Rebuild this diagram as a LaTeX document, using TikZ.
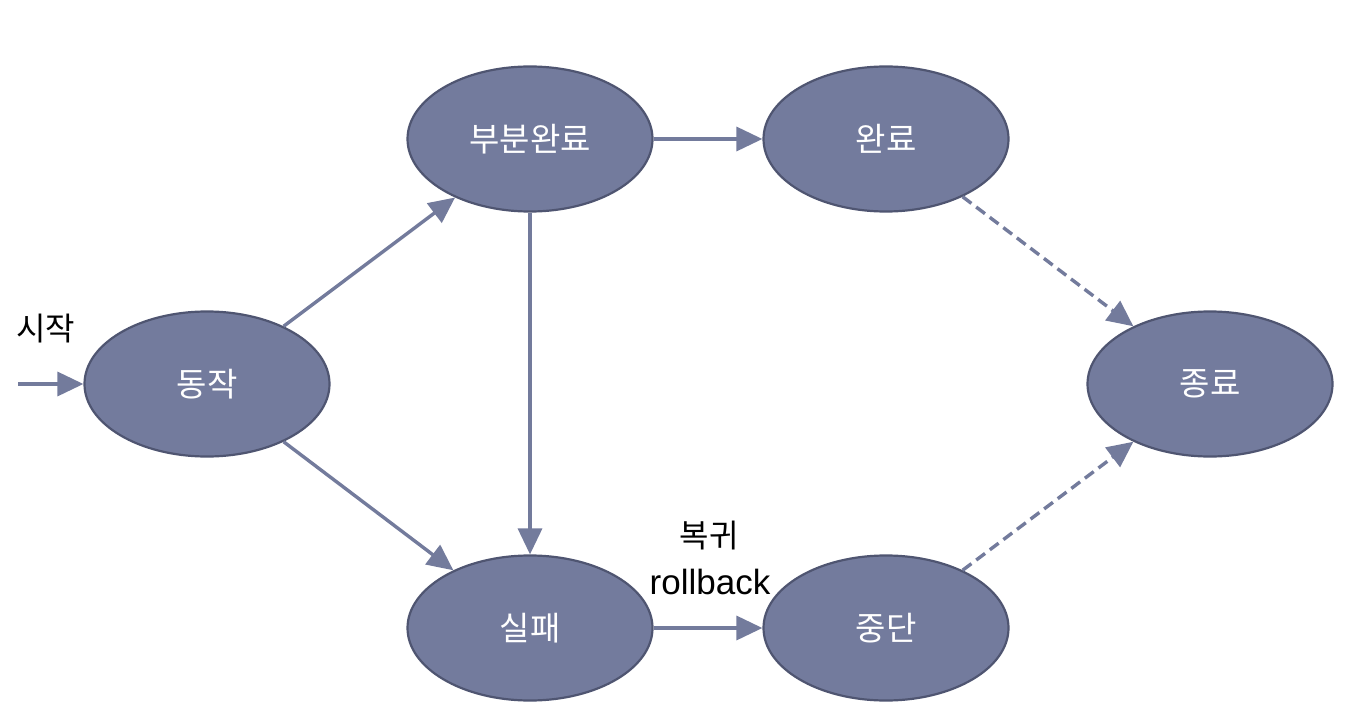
\documentclass[tikz,border=0pt]{standalone}
\usepackage{fontspec}
\setmainfont{Liberation Sans}
\newfontfamily\kr{Noto Sans CJK KR}
\usetikzlibrary{arrows.meta,shapes.geometric}
\definecolor{nodefill}{HTML}{737B9D}
\definecolor{nodeedge}{HTML}{4F5571}
\definecolor{arrowc}{HTML}{737B9C}
\tikzset{
  state/.style={ellipse, fill=nodefill, draw=nodeedge, line width=2.2pt,
    minimum width=245pt, minimum height=145pt, inner sep=0pt,
    text=white, font=\kr\fontsize{33}{36}\selectfont},
  conn/.style={draw=arrowc, line width=3.4pt,
    -{Triangle[length=26pt,width=24pt]}},
  dconn/.style={conn, dash pattern=on 11pt off 6pt},
  lbl/.style={text=black, inner sep=0pt}
}
\begin{document}
\begin{tikzpicture}[x=1pt,y=-1pt]
\useasboundingbox (0,0) rectangle (1346,722);
\node[state] (act) at (207,384) {동작};
\node[state] (part) at (530,139) {부분완료};
\node[state] (done) at (886,139) {완료};
\node[state] (fail) at (530,628) {실패};
\node[state] (abort) at (886,628) {중단};
\node[state] (end) at (1210,384) {종료};
\coordinate (start) at (18,384);
\node[lbl, font=\kr\fontsize{32}{34}\selectfont] (startlbl) at (46,329) {시작};
\node[lbl, font=\kr\fontsize{32}{34}\selectfont] (rbk) at (709,536) {복귀};
\node[lbl, font=\fontsize{35}{38}\selectfont] (rbe) at (710,582) {rollback};
\draw[conn] (start) -- (act.west);
\draw[conn] (act.37) -- (part.218);
\draw[conn] (act.-37) -- (fail.143);
\draw[conn] (part.east) -- (done.west);
\draw[conn] (part.south) -- (fail.north);
\draw[conn] (fail.east) -- (abort.west);
\draw[dconn] (done.-37) -- (end.143);
\draw[dconn] (abort.37) -- (end.217);
\end{tikzpicture}
\end{document}
